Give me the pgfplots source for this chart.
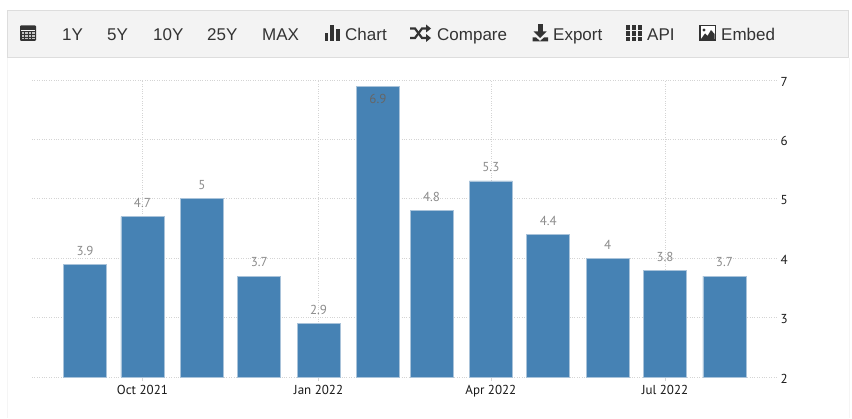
\documentclass[border=0pt]{standalone}
\usepackage{pgfplots}
\pgfplotsset{compat=1.18}
\usepackage{fontspec}
\setmainfont{Liberation Sans}
\newfontfamily\chartfont{PT Sans}
\definecolor{bar}{HTML}{4682B4}
\definecolor{barb}{HTML}{A9C3DA}
\definecolor{gridc}{HTML}{D4D4D4}
\definecolor{panel}{HTML}{F3F3F3}
\definecolor{panelb}{HTML}{DDDDDD}
\definecolor{ink}{HTML}{333333}
\begin{document}
\begin{tikzpicture}[x=1pt,y=1pt]
\path[fill=white] (0,0) rectangle (852,418);
\begin{scope}[shift={(0,418)},y=-1pt]
  \draw[color=black!4,line width=0.8pt] (7,58) -- (7,418) (849,58) -- (849,418);
  \draw[fill=panel,draw=panelb,line width=1pt] (7.5,10.5) rectangle (848.5,58);
  % calendar icon
  \fill[ink,rounded corners=1pt] (20,25.5) rectangle (36,41);
  \fill[panel] (21,30.5) rectangle (35,31.5);
  \foreach \a in {21.5,25,28.5,32}{\foreach \b in {32.3,35,37.7}{\fill[white!70!ink] (\a,\b) rectangle +(2.5,1.6);}}
  % bar icon
  \fill[ink] (325,33) rectangle (328,41);
  \fill[ink] (330,25.5) rectangle (333.5,41);
  \fill[ink] (336,29.5) rectangle (340,41);
  % shuffle icon
  \draw[ink,line width=2.2pt] (410,28.5) -- (415,28.5) -- (422,38) -- (427,38);
  \draw[ink,line width=2.2pt] (410,38) -- (415,38) -- (422,28.5) -- (427,28.5);
  \fill[ink] (426,24.5) -- (431,28.5) -- (426,32.5) -- cycle;
  \fill[ink] (426,34) -- (431,38) -- (426,42) -- cycle;
  % download icon
  \fill[ink] (537.5,24.5) rectangle (542.5,32);
  \fill[ink] (533.5,31.5) -- (546.5,31.5) -- (540,38) -- cycle;
  \fill[ink] (532.5,37.5) -- (536,37.5) -- (540,41) -- (544,37.5) -- (548,37.5) -- (548,41.5) -- (532.5,41.5) -- cycle;
  % grid icon
  \foreach \a in {626,632,638}{\foreach \b in {25.5,31.5,37}{\fill[ink] (\a,\b) rectangle +(4.3,4.3);}}
  % image icon
  \fill[ink] (699,25) rectangle (716,41);
  \fill[white] (700.5,26.5) rectangle (714.5,39.5);
  \fill[ink] (701,39) -- (705,33.5) -- (707.5,36) -- (711,30) -- (714.5,34) -- (714.5,39.5) -- (701,39.5) -- cycle;
  \fill[ink] (704,30) circle (1.6);
  % toolbar text
  \begin{scope}[every node/.style={font=\fontsize{17}{17}\selectfont,text=ink,inner sep=0pt,anchor=base west}]
    \node at (62,40.5) {1Y};
    \node at (107,40.5) {5Y};
    \node at (153,40.5) {10Y};
    \node at (207,40.5) {25Y};
    \node at (262,40.5) {MAX};
    \node at (345,40.5) {Chart};
    \node at (437,40.5) {Compare};
    \node at (553,40.5) {Export};
    \node at (647,40.5) {API};
    \node at (721,40.5) {Embed};
  \end{scope}
\end{scope}
\begin{axis}[
  at={(32pt,41pt)},anchor=south west,
  scale only axis,width=746pt,height=297pt,
  xmin=-27.7,xmax=362,ymin=2,ymax=7,
  axis line style={draw=none},
  axis y line*=right,
  axis x line*=bottom,
  ytick={2,3,4,5,6,7},
  xtick={30,122,212,303},
  xticklabels={Oct 2021,Jan 2022,Apr 2022,Jul 2022},
  ytick style={draw=none},
  xtick style={draw=gridc,line width=0.7pt},
  major tick length=4pt,
  grid=major,
  grid style={gridc,dotted,line width=0.7pt},
  /pgf/number format/assume math mode=true,
  tick label style={font=\chartfont\fontsize{13}{13}\selectfont,text=black!90},
  yticklabel style={xshift=-1pt,yshift=-1.5pt},
  xticklabel style={yshift=-1pt},
  ybar,bar width=43pt,bar shift=0pt,
  enlargelimits=false,clip=false,
  nodes near coords,
  every node near coord/.append style={font=\chartfont\fontsize{13}{13}\selectfont,text=black!45,inner sep=0pt,yshift=8.5pt},
]
\addplot[fill=bar,draw=barb,line width=0.8pt] table[x=x,y=y] {
x y
0 3.9
30 4.7
61 5
91 3.7
122 2.9
181 4.8
212 5.3
242 4.4
273 4
303 3.8
334 3.7
};
\addplot[fill=bar,draw=barb,line width=0.8pt,every node near coord/.append style={anchor=north,yshift=-16pt,text=black!60}] table[x=x,y=y] {
x y
153 6.9
};
\end{axis}
\end{tikzpicture}
\end{document}
